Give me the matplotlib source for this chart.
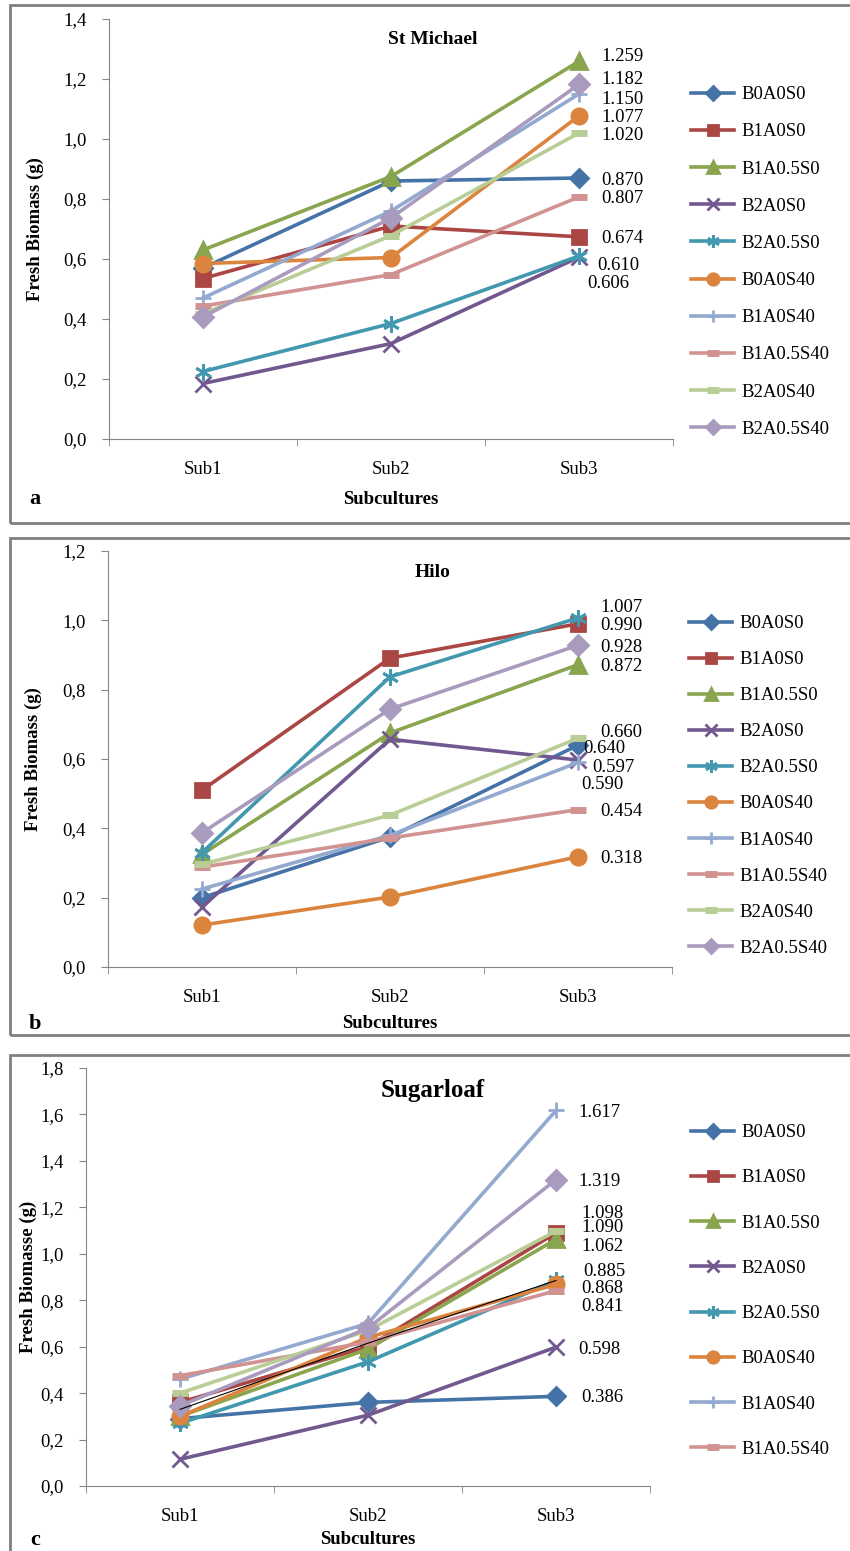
import matplotlib
matplotlib.use("Agg")
import matplotlib.pyplot as plt
import matplotlib.ticker as mticker
from matplotlib.patches import Rectangle

plt.rcParams["font.family"] = ["Liberation Serif", "DejaVu Serif"]

# ---- data ----
subcultures = ["Sub1", "Sub2", "Sub3"]
treatments = ["B0A0S0", "B1A0S0", "B1A0.5S0", "B2A0S0", "B2A0.5S0",
              "B0A0S40", "B1A0S40", "B1A0.5S40", "B2A0S40", "B2A0.5S40"]

st_michael = [
    [0.57, 0.86, 0.870],
    [0.535, 0.71, 0.674],
    [0.63, 0.875, 1.259],
    [0.185, 0.318, 0.606],
    [0.225, 0.385, 0.610],
    [0.585, 0.605, 1.077],
    [0.47, 0.76, 1.150],
    [0.443, 0.548, 0.807],
    [0.417, 0.678, 1.020],
    [0.407, 0.737, 1.182],
]
hilo = [
    [0.20, 0.375, 0.640],
    [0.51, 0.891, 0.990],
    [0.325, 0.675, 0.872],
    [0.173, 0.657, 0.597],
    [0.330, 0.837, 1.007],
    [0.121, 0.202, 0.318],
    [0.225, 0.380, 0.590],
    [0.288, 0.372, 0.454],
    [0.296, 0.438, 0.660],
    [0.387, 0.744, 0.928],
]
sugarloaf = [
    [0.29, 0.36, 0.386],
    [0.36, 0.60, 1.090],
    [0.30, 0.59, 1.062],
    [0.115, 0.305, 0.598],
    [0.27, 0.535, 0.885],
    [0.30, 0.64, 0.868],
    [0.46, 0.70, 1.617],
    [0.475, 0.62, 0.841],
    [0.40, 0.67, 1.098],
    [0.345, 0.68, 1.319],
]
sugarloaf_black = [0.33, 0.615, 0.885]

colors = ["#4573A7", "#AA4643", "#89A54E", "#71588F", "#4198AF",
          "#DB843D", "#93A9CF", "#D19392", "#B9CD96", "#A99BBD"]
markers = ["D", "s", "^", "x", (6, 2, 0), "o", "+", "_", "_", "D"]
msizes = [9, 10, 11, 11, 12, 11, 12, 11, 11, 10]

FS = 13.5

# label nudges (dx, dy in pixels, dy positive = down)
nudge_a = {2: (22, -5), 9: (22, -5), 6: (22, 5), 4: (18, 10), 3: (8, 26)}
nudge_b = {4: (22, -10), 8: (22, -6), 0: (5, 3), 3: (14, 7), 6: (3, 22)}
nudge_c = {0: (25, 1), 8: (25, -18), 1: (25, -5), 2: (25, 7), 4: (27, -9),
           5: (25, 4), 7: (25, 16)}

W, H = 850, 1551
fig = plt.figure(figsize=(W / 100, H / 100), dpi=100)


def fx(px):
    return px / W


def fy(py):
    return 1 - py / H


def comma(v, pos):
    return f"{v:.1f}".replace(".", ",")


def panel(rect_px, data, ymax, title, title_size, ylabel, letter, nudges,
          frame_px, legend_pos, legend_rows, ylabel_x, xlabel_ypx, nleg=10):
    left, top, right, bottom = rect_px
    ax = fig.add_axes([fx(left), fy(bottom), fx(right - left), (bottom - top) / H])
    for i, vals in enumerate(data):
        m = markers[i]
        mew = 5 if m == "_" else 2
        ax.plot(range(3), vals, color=colors[i], lw=2.6, marker=m,
                ms=msizes[i], mew=mew, mec=colors[i], mfc=colors[i],
                label=treatments[i], solid_joinstyle="miter")
    for i, vals in enumerate(data):
        dx, dy = nudges.get(i, (22, 2))
        ax.annotate(f"{vals[2]:.3f}", (2, vals[2]), xytext=(dx, -dy),
                    textcoords="offset pixels", ha="left", va="center",
                    fontsize=FS)
    ax.set_xlim(-0.5, 2.5)
    ax.set_ylim(0, ymax)
    ax.yaxis.set_major_locator(mticker.MultipleLocator(0.2))
    ax.yaxis.set_major_formatter(mticker.FuncFormatter(comma))
    ax.set_xticks(range(3))
    ax.set_xticklabels(subcultures)
    ax.set_xticks([-0.5, 0.5, 1.5, 2.5], minor=True)
    ax.tick_params(axis="x", which="major", length=0, pad=16, labelsize=FS)
    ax.tick_params(axis="x", which="minor", length=5, color="#868686")
    ax.tick_params(axis="y", length=5, color="#868686", pad=11, labelsize=FS)
    for s in ["top", "right"]:
        ax.spines[s].set_visible(False)
    for s in ["left", "bottom"]:
        ax.spines[s].set_color("#868686")
    ax.set_ylabel(ylabel, fontsize=FS, fontweight="bold")
    ax.yaxis.set_label_coords((ylabel_x + 9 - left) / (right - left), 0.5)

    fig.text(fx(433), fy(title[1]), title[0], ha="center", va="center",
             fontsize=title_size, fontweight="bold")
    fig.text(fx((left + right) / 2), fy(xlabel_ypx), "Subcultures",
             ha="center", va="center", fontsize=FS, fontweight="bold")
    fig.text(fx(35), fy(xlabel_ypx), letter, ha="center", va="center",
             fontsize=16, fontweight="bold")

    handles, labels = ax.get_legend_handles_labels()
    ax.legend(handles[:nleg], labels[:nleg], loc="upper left",
              bbox_to_anchor=(fx(legend_pos[0]), fy(legend_pos[1])),
              bbox_transform=fig.transFigure, frameon=False,
              fontsize=FS, handlelength=2.3, handletextpad=0.37,
              labelspacing=legend_rows, markerscale=0.75,
              borderpad=0, borderaxespad=0)

    fx0, fy0, fx1, fy1 = frame_px
    fig.patches.append(Rectangle((fx(fx0), fy(fy1)), fx(fx1 - fx0), (fy1 - fy0) / H,
                                 transform=fig.transFigure, fill=False,
                                 ec="#808080", lw=2))
    return ax


panel((109, 19, 673, 439), st_michael, 1.4, ("St Michael", 40), 14,
      "Fresh Biomass (g)", "a", nudge_a, (10, 5, 852, 523),
      (691, 86), 1.07, 35, 499)
panel((108, 551, 672, 967), hilo, 1.2, ("Hilo", 573), 14,
      "Fresh Biomass (g)", "b", nudge_b, (10, 538, 852, 1035),
      (689, 615), 1.01, 33, 1024)
panel((86, 1068, 650, 1486), sugarloaf, 1.8, ("Sugarloaf", 1090), 18,
      "Fresh Biomasse (g)", "c", nudge_c, (10, 1055, 852, 1560),
      (691, 1124), 1.5, 28, 1540, nleg=8)

ax_c = fig.axes[-1]
ax_c.plot(range(3), sugarloaf_black, color="black", lw=0.8)

fig.savefig("out.png", dpi=100)
